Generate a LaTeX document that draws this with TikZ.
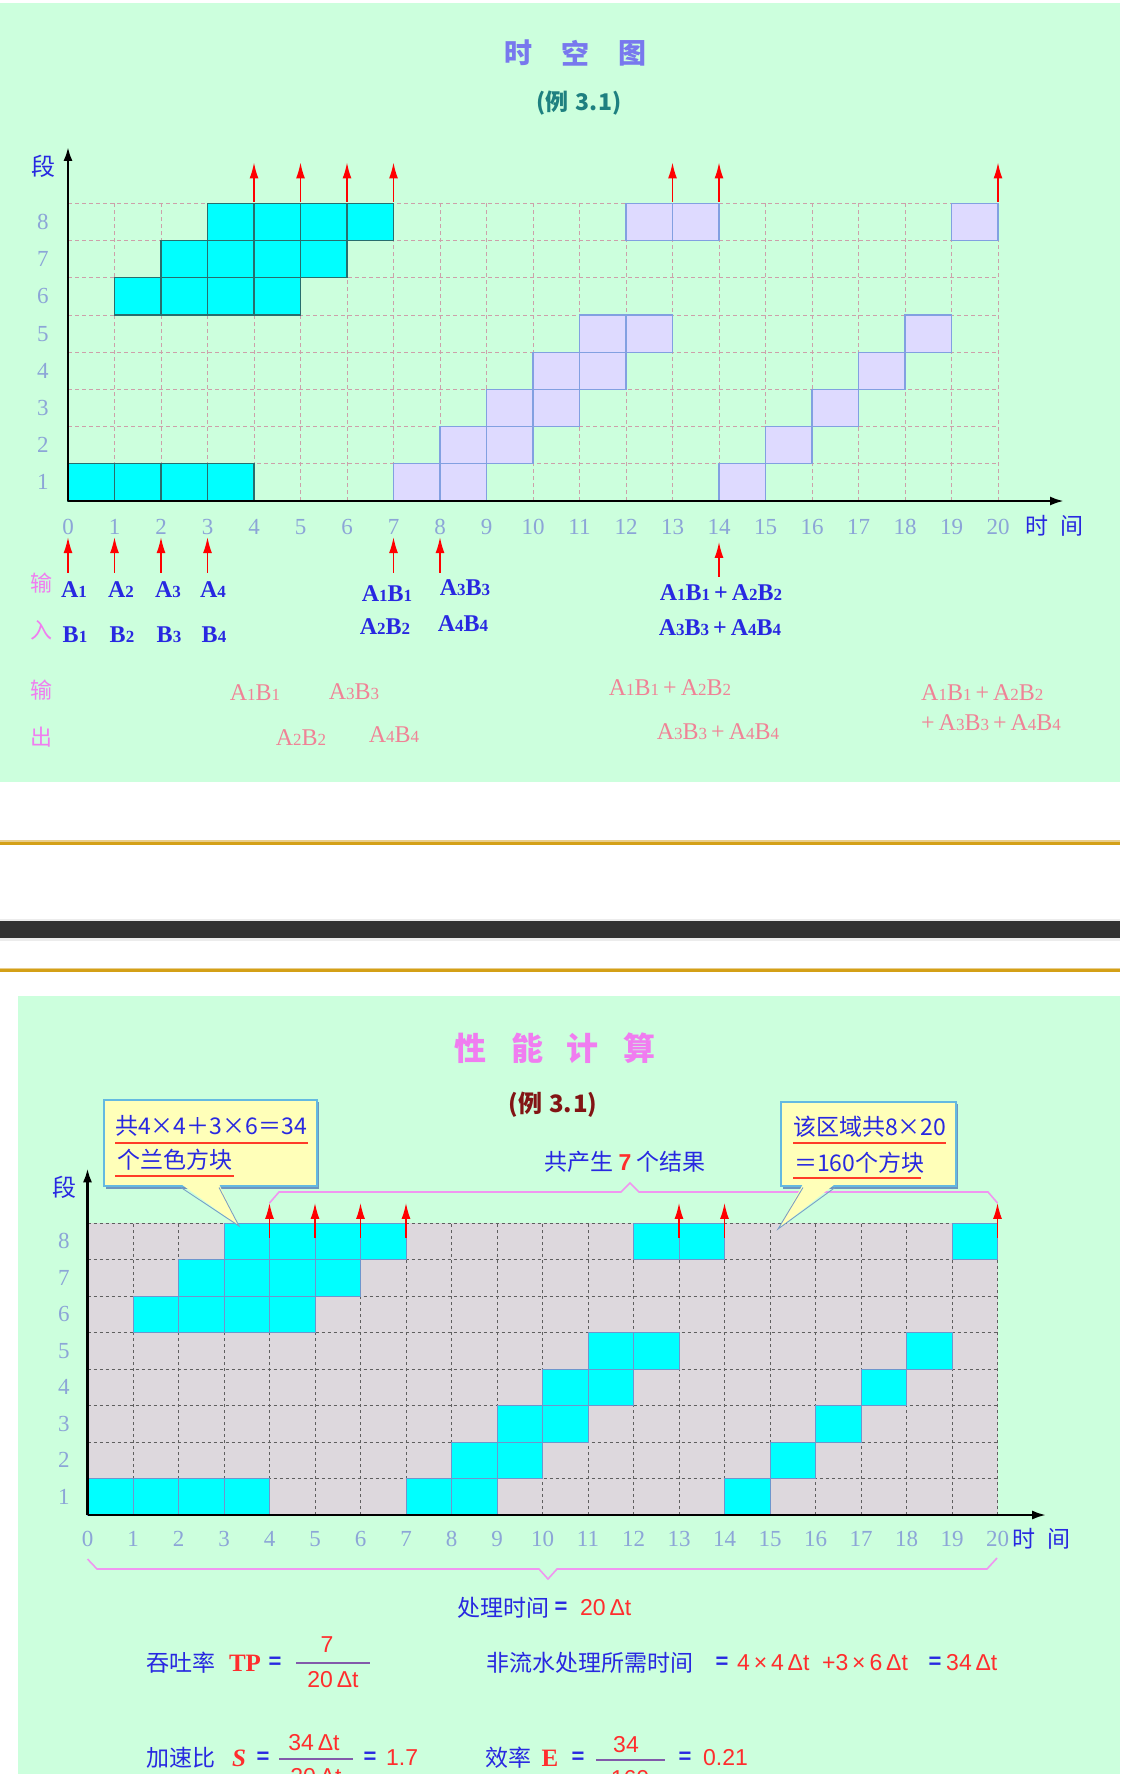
\documentclass[tikz,border=0pt]{standalone}
\usepackage{fontspec}
\usetikzlibrary{arrows.meta}
\setmainfont{Liberation Serif}
\newfontfamily\cjk{Noto Sans CJK SC}
\newfontfamily\lsans{Liberation Sans}
\newcommand{\fsz}[1]{\fontsize{#1}{#1}\selectfont}
\newcommand{\sbd}[1]{{\fontsize{17}{17}\selectfont #1}}
\newcommand{\pq}[2]{A\sbd{#1}B\sbd{#2}}
\definecolor{bgg}{RGB}{204,255,221}
\definecolor{goldc}{RGB}{212,160,23}
\definecolor{goldl}{RGB}{232,205,140}
\definecolor{bandc}{RGB}{50,50,50}
\definecolor{bandedge}{RGB}{236,236,236}
\definecolor{tblue}{RGB}{40,40,225}
\definecolor{axnum}{RGB}{140,165,215}
\definecolor{vlt}{RGB}{240,125,240}
\definecolor{opink}{RGB}{240,130,150}
\definecolor{cyanc}{RGB}{0,255,255}
\definecolor{tealb}{RGB}{40,110,110}
\definecolor{lav}{RGB}{222,218,255}
\definecolor{lavb}{RGB}{130,160,225}
\definecolor{grid1c}{RGB}{205,160,170}
\definecolor{grid2c}{RGB}{95,95,95}
\definecolor{g2fill}{RGB}{221,216,221}
\definecolor{cyb2}{RGB}{110,150,205}
\definecolor{title1}{RGB}{120,120,238}
\definecolor{teal1}{RGB}{30,128,128}
\definecolor{maroon2}{RGB}{130,20,20}
\definecolor{rred}{RGB}{255,45,45}
\definecolor{ylw}{RGB}{255,255,185}
\definecolor{boxb}{RGB}{100,185,225}
\definecolor{shadc}{RGB}{110,150,190}
\definecolor{ptrb}{RGB}{120,160,200}
\definecolor{fracc}{RGB}{130,90,170}
\definecolor{bracec}{RGB}{240,150,240}
\definecolor{ulc}{RGB}{255,60,40}
\tikzset{
 grida/.style={draw=grid1c, dash pattern=on 4pt off 3pt, line width=0.9pt},
 gridb/.style={draw=grid2c, dash pattern=on 3pt off 3pt, line width=0.9pt},
 cella/.style={fill=cyanc, draw=tealb, line width=1.1pt},
 cellb/.style={fill=lav, draw=lavb, line width=1.1pt},
 cellc/.style={fill=cyanc, draw=cyb2, line width=1pt},
 redarr/.style={draw=red, line width=1.6pt, -{Latex[length=16pt,width=9pt]}},
 axst/.style={draw=black, line width=2.6pt, -{Latex[length=14pt,width=9pt]}},
 axnumst/.style={text=axnum, font=\fsz{23}, inner sep=0pt},
 cjkb/.style={font=\cjk\fsz{23}, text=tblue, inner sep=0pt},
 vltst/.style={font=\cjk\fsz{22}, text=vlt, inner sep=0pt},
 inl/.style={font=\bfseries\fsz{24}, text=tblue, inner sep=0pt},
 outl/.style={font=\fsz{24}, text=opink, inner sep=0pt},
 rnum/.style={font=\lsans\fsz{23}, text=rred, inner sep=0pt},
 rbold/.style={font=\bfseries\fsz{25}, text=rred, inner sep=0pt},
 rboldit/.style={font=\bfseries\itshape\fsz{25}, text=rred, inner sep=0pt},
 eqs/.style={font=\lsans\bfseries\fsz{22}, text=tblue, inner sep=0pt},
 fracst/.style={draw=fracc, line width=2pt},
 bracest/.style={draw=bracec, line width=1.6pt},
 ulst/.style={draw=ulc, line width=2pt},
 axlbl/.style={font=\cjk\fsz{23}, text=tblue, inner sep=0pt}
}
\begin{document}
\begin{tikzpicture}[x=1pt,y=-1pt]
\useasboundingbox (0,0) rectangle (1120,1774);
\fill[white] (0,0) rectangle (1120,1774);
% panels and separators
\fill[bgg] (0,3) rectangle (1120,782);
\fill[goldl] (0,840) rectangle (1120,841.5);
\fill[goldc] (0,841.5) rectangle (1120,844.5);
\fill[bandedge] (0,918.5) rectangle (1120,941);
\fill[bandc] (0,921) rectangle (1120,938);
\fill[goldl] (0,967.5) rectangle (1120,969);
\fill[goldc] (0,969) rectangle (1120,972);
\fill[bgg] (18,996) rectangle (1120,1774);

% ================= top panel =================
\node[font=\cjk\bfseries\fsz{28}, text=title1, inner sep=0pt] (t1a) at (518,53) {时};
\node[font=\cjk\bfseries\fsz{28}, text=title1, inner sep=0pt] (t1b) at (575,53) {空};
\node[font=\cjk\bfseries\fsz{28}, text=title1, inner sep=0pt] (t1c) at (632,53) {图};
\node[font=\cjk\bfseries\fsz{23}, text=teal1, inner sep=0pt] (t1s) at (579,103) {(例\hspace{7pt}3.\hspace{1pt}1)};

\begin{scope}[shift={(68,501)},x=46.5pt,y=37.2pt]
 \foreach \i in {1,...,20} \draw[grida] (\i,0) -- (\i,8);
 \foreach \j in {1,...,8} \draw[grida] (0,\j) -- (20,\j);
 \foreach \c/\rw in {0/1,1/1,2/1,3/1,1/6,2/6,3/6,4/6,2/7,3/7,4/7,5/7,3/8,4/8,5/8,6/8}
   \draw[cella] (\c,\rw) rectangle ++(1,-1);
 \foreach \c/\rw in {7/1,8/1,8/2,9/2,9/3,10/3,10/4,11/4,11/5,12/5,12/8,13/8,14/1,15/2,16/3,17/4,18/5,19/8}
   \draw[cellb] (\c,\rw) rectangle ++(1,-1);
 \coordinate (o1) at (0,0);
 \coordinate (xe1) at (21.42,0);
 \coordinate (ye1) at (0,9.52);
 \draw[axst] (o1) -- (xe1);
 \draw[axst] (o1) -- (ye1);
 \foreach \tx in {0,...,20} \node[axnumst] (xa\tx) at (\tx,-0.7) {\tx};
 \foreach \rw in {1,...,8} \node[axnumst] (ya\rw) at (-0.54,\rw-0.5) {\rw};
 \foreach \tx in {4,5,6,7,13,14,20} {
   \coordinate (ua\tx) at (\tx,8.05); \coordinate (ub\tx) at (\tx,9.1);
   \draw[redarr] (ua\tx) -- (ub\tx);}
 \foreach \tx in {0,1,2,3,7,8} {
   \coordinate (ia\tx) at (\tx,-1.93); \coordinate (ib\tx) at (\tx,-0.97);
   \draw[redarr] (ia\tx) -- (ib\tx);}
 \coordinate (ia14) at (14,-2.03); \coordinate (ib14) at (14,-1.1);
 \draw[redarr] (ia14) -- (ib14);
\end{scope}
\node[font=\cjk\fsz{24}, text=tblue, inner sep=0pt] (duan1) at (43,166) {段};
\node[axlbl] (sj1a) at (1037,526) {时};
\node[axlbl] (sj1b) at (1072,526) {间};

% input labels
\node[vltst] (ins1) at (41,583) {输};
\node[vltst] (ins2) at (41,630) {入};
\node[vltst] (ous1) at (41,690) {输};
\node[vltst] (ous2) at (41,737) {出};
\node[inl] (a1) at (74,590) {A\sbd{1}};
\node[inl] (a2) at (121,590) {A\sbd{2}};
\node[inl] (a3) at (168,590) {A\sbd{3}};
\node[inl] (a4) at (213,590) {A\sbd{4}};
\node[inl] (b1) at (75,635) {B\sbd{1}};
\node[inl] (b2) at (122,635) {B\sbd{2}};
\node[inl] (b3) at (169,635) {B\sbd{3}};
\node[inl] (b4) at (214,635) {B\sbd{4}};
\node[inl] (p11) at (387,594) {\pq11};
\node[inl] (p22) at (385,627) {\pq22};
\node[inl] (p33) at (465,588) {\pq33};
\node[inl] (p44) at (463,624) {\pq44};
\node[inl] (s12) at (721,593) {\pq11\,+\,\pq22};
\node[inl] (s34) at (720,628) {\pq33\,+\,\pq44};
% output labels
\node[outl] (q11) at (255,693) {\pq11};
\node[outl] (q22) at (301,738) {\pq22};
\node[outl] (q33) at (354,692) {\pq33};
\node[outl] (q44) at (394,735) {\pq44};
\node[outl] (r12) at (670,688) {\pq11\,+\,\pq22};
\node[outl] (r34) at (718,732) {\pq33\,+\,\pq44};
\node[outl,anchor=west] (rs1) at (921,693) {\pq11\,+\,\pq22};
\node[outl,anchor=west] (rs2) at (921,723) {+\,\pq33\,+\,\pq44};

% ================= bottom panel =================
\node[font=\cjk\bfseries\fsz{32}, text=vlt, inner sep=0pt] (t2a) at (470,1048) {性};
\node[font=\cjk\bfseries\fsz{32}, text=vlt, inner sep=0pt] (t2b) at (527,1048) {能};
\node[font=\cjk\bfseries\fsz{32}, text=vlt, inner sep=0pt] (t2c) at (582,1048) {计};
\node[font=\cjk\bfseries\fsz{32}, text=vlt, inner sep=0pt] (t2d) at (639,1048) {算};
\node[font=\cjk\bfseries\fsz{24}, text=maroon2, inner sep=0pt] (t2s) at (553,1105) {(例\hspace{7pt}3.\hspace{1pt}1)};

\begin{scope}[shift={(87.5,1515)},x=45.5pt,y=36.5pt]
 \fill[g2fill] (0,0) rectangle (20,8);
 \foreach \i in {1,...,20} \draw[gridb] (\i,0) -- (\i,8);
 \foreach \j in {1,...,8} \draw[gridb] (0,\j) -- (20,\j);
 \foreach \c/\rw in {0/1,1/1,2/1,3/1,1/6,2/6,3/6,4/6,2/7,3/7,4/7,5/7,3/8,4/8,5/8,6/8,
   7/1,8/1,8/2,9/2,9/3,10/3,10/4,11/4,11/5,12/5,12/8,13/8,14/1,15/2,16/3,17/4,18/5,19/8}
   \draw[cellc] (\c,\rw) rectangle ++(1,-1);
 \coordinate (o2) at (0,0);
 \coordinate (xe2) at (21.07,0);
 \coordinate (ye2) at (0,9.5);
 \draw[axst] (o2) -- (xe2);
 \draw[axst] (o2) -- (ye2);
 \foreach \tx in {0,...,20} \node[axnumst] (xb\tx) at (\tx,-0.66) {\tx};
 \foreach \rw in {1,...,8} \node[axnumst] (yb\rw) at (-0.52,\rw-0.5) {\rw};
 \foreach \tx in {4,5,6,7,13,14,20} {
   \coordinate (va\tx) at (\tx,7.6); \coordinate (vb\tx) at (\tx,8.55);
   \draw[redarr] (va\tx) -- (vb\tx);}
\end{scope}
\node[font=\cjk\fsz{24}, text=tblue, inner sep=0pt] (duan2) at (64,1187) {段};
\node[axlbl] (sj2a) at (1024,1539) {时};
\node[axlbl] (sj2b) at (1059,1539) {间};

% braces
\draw[bracest] (269.5,1203) -- (279,1192) -- (621,1192) -- (630,1183) -- (639,1192) -- (988,1192) -- (997.5,1203);
\draw[bracest] (87.5,1559) -- (97,1569) -- (539,1569) -- (548,1579) -- (557,1569) -- (987,1569) -- (997,1558);
\node[cjkb] (res) at (625,1162) {共产生 {\lsans\bfseries\color{rred}7} 个结果};

% callout 1
\fill[shadc] (106,1102) rectangle (319,1188.5);
\filldraw[fill=ylw, draw=boxb, line width=2.5pt] (104,1100) rectangle (317,1186);
\fill[ylw] (181,1184) -- (239,1226) -- (219,1184) -- cycle;
\draw[ptrb, line width=0.9pt] (181,1187.5) -- (239,1226) -- (219,1187.5);
\node[cjkb,anchor=west] (c1a) at (115,1126) {共4×4＋3×6＝34};
\draw[ulst] (115,1143) -- (308,1143);
\node[cjkb,anchor=west] (c1b) at (117,1160) {个兰色方块};
\draw[ulst] (115,1176) -- (234,1176);

% callout 2
\fill[shadc] (783,1104) rectangle (958,1188.5);
\filldraw[fill=ylw, draw=boxb, line width=2.5pt] (781,1102) rectangle (956,1186);
\fill[ylw] (803,1184) -- (778,1229) -- (835,1184) -- cycle;
\draw[ptrb, line width=0.9pt] (803,1187.5) -- (778,1229) -- (835,1187.5);
\node[cjkb,anchor=west] (c2a) at (793,1127) {该区域共8×20};
\draw[ulst] (793,1143) -- (946,1143);
\node[cjkb,anchor=west] (c2b) at (794,1163) {＝160个方块};
\draw[ulst] (793,1178) -- (921,1178);

% formulas
\node[cjkb] (f1a) at (503,1608) {处理时间};
\node[eqs] (f1b) at (561,1608) {=};
\node[rnum,anchor=west] (f1c) at (580,1608) {20\,Δt};

\node[cjkb] (f2a) at (181,1663) {吞吐率};
\node[rbold] (f2b) at (245,1663) {TP};
\node[eqs] (f2c) at (275,1663) {=};
\coordinate (f2l) at (296,1663); \coordinate (f2r) at (370,1663);
\draw[fracst] (f2l) -- (f2r);
\node[rnum] (f2n) at (327,1645) {7};
\node[rnum] (f2d) at (333,1680) {20\,Δt};

\node[cjkb,anchor=west] (f3a) at (486,1663) {非流水处理所需时间};
\node[eqs] (f3b) at (722,1663) {=};
\node[rnum,anchor=west] (f3c) at (737,1663) {4\,×\,4\,Δt};
\node[rnum,anchor=west] (f3d) at (822,1663) {+3\,×\,6\,Δt};
\node[eqs] (f3e) at (935,1663) {=};
\node[rnum,anchor=west] (f3f) at (946,1663) {34\,Δt};

\node[cjkb] (f4a) at (181,1758) {加速比};
\node[rboldit] (f4b) at (239,1758) {S};
\node[eqs] (f4c) at (263,1758) {=};
\coordinate (f4l) at (279,1759); \coordinate (f4r) at (353,1759);
\draw[fracst] (f4l) -- (f4r);
\node[rnum] (f4n) at (314,1743) {34\,Δt};
\node[rnum] (f4d) at (316,1777) {20\,Δt};
\node[eqs] (f4e) at (370,1758) {=};
\node[rnum,anchor=west] (f4f) at (386,1758) {1.7};

\node[cjkb] (f5a) at (508,1758) {效率};
\node[rbold] (f5b) at (550,1758) {E};
\node[eqs] (f5c) at (578,1758) {=};
\coordinate (f5l) at (596,1760); \coordinate (f5r) at (665,1760);
\draw[fracst] (f5l) -- (f5r);
\node[rnum] (f5n) at (626,1745) {34};
\node[rnum] (f5d) at (630,1779) {160};
\node[eqs] (f5e) at (685,1758) {=};
\node[rnum,anchor=west] (f5f) at (703,1758) {0.21};
\end{tikzpicture}
\end{document}
